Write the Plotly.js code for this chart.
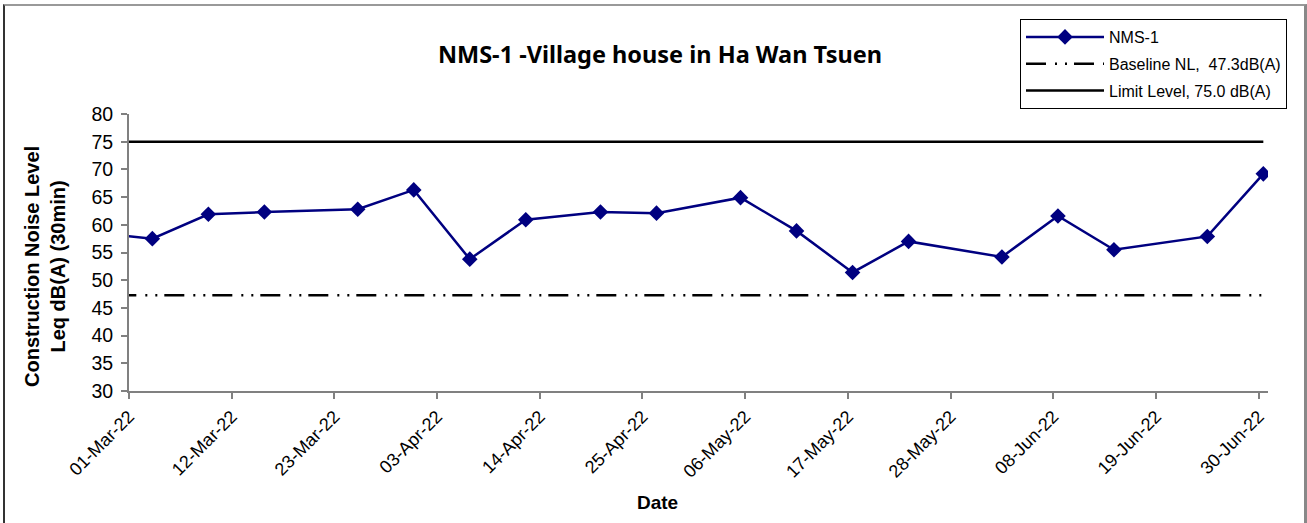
<!DOCTYPE html>
<html>
<head>
<meta charset="utf-8">
<script src="https://cdn.plot.ly/plotly-3.0.1.min.js"></script>
<style>
  html, body { margin: 0; padding: 0; background: #fff; }
  #wrap { position: relative; width: 1307px; height: 523px; overflow: hidden; }
  #chart { position: absolute; left: 0; top: 0; width: 1307px; height: 523px; }
  #frame { position: absolute; left: 3px; top: 4px; width: 1299px; height: 540px;
           border-left: 2px solid #333; border-top: 2px solid #999; border-right: 3px solid #888;
           pointer-events: none; }
</style>
</head>
<body>
<div id="wrap">
  <div id="chart"></div>
  <div id="frame"></div>
</div>
<script>
// Data
const dates = [
  "2022-02-22 12:00", "2022-03-03 12:00", "2022-03-09 12:00", "2022-03-15 12:00",
  "2022-03-25 12:00", "2022-03-31 12:00", "2022-04-06 12:00", "2022-04-12 12:00",
  "2022-04-20 12:00", "2022-04-26 12:00", "2022-05-05 12:00", "2022-05-11 12:00",
  "2022-05-17 12:00", "2022-05-23 12:00", "2022-06-02 12:00", "2022-06-08 12:00",
  "2022-06-14 12:00", "2022-06-24 12:00", "2022-06-30 12:00"
];
const nms1 = [59.0, 57.5, 61.9, 62.3, 62.8, 66.3, 53.8, 60.9, 62.3, 62.1, 64.9, 58.9,
              51.4, 57.0, 54.2, 61.6, 55.5, 57.9, 69.2];
const baselineLevel = 47.3;
const limitLevel = 75.0;
const lineSpan = ["2022-02-22 12:00", "2022-06-30 12:00"];

const seriesNames = ["NMS-1", "Baseline NL,  47.3dB(A)", "Limit Level, 75.0 dB(A)"];
const chartTitle = "NMS-1 -Village house in Ha Wan Tsuen";
const xTitle = "Date";
const yTitle = "Construction Noise Level<br>Leq dB(A) (30min)";

const traces = [
  {
    x: dates, y: nms1, name: seriesNames[0], type: "scatter", mode: "lines+markers",
    legendgroup: "a",
    line: { color: "#000080", width: 2.5 },
    marker: { symbol: "diamond", size: 12, color: "#000080" }
  },
  {
    x: lineSpan, y: [baselineLevel, baselineLevel], name: seriesNames[1], type: "scatter", mode: "lines",
    legendgroup: "b",
    line: { color: "#000000", width: 2.5, dash: "20px,9px,2px,8px,2px,7px" }
  },
  {
    x: lineSpan, y: [limitLevel, limitLevel], name: seriesNames[2], type: "scatter", mode: "lines",
    legendgroup: "c",
    line: { color: "#000000", width: 2.5 }
  }
];

const arial = "Liberation Sans, Arial, sans-serif";

const layout = {
  width: 1307, height: 523,
  paper_bgcolor: "#fff", plot_bgcolor: "#fff",
  margin: { l: 129, r: 39, t: 114, b: 132 },
  showlegend: true,
  title: {
    text: "<b>" + chartTitle + "</b>",
    font: { family: "Noto Sans, sans-serif", size: 23.5, color: "#000" },
    x: 660 / 1307, xanchor: "center", xref: "container",
    y: 1 - 55 / 523, yanchor: "middle", yref: "container"
  },
  legend: {
    x: (1020 - 129) / (1307 - 129 - 39), xanchor: "left",
    y: (391 - 19) / 277, yanchor: "top",
    bgcolor: "#fff", bordercolor: "#000", borderwidth: 1,
    font: { family: arial, size: 16, color: "#000" },
    tracegroupgap: 3, traceorder: "grouped", itemwidth: 78
  },
  xaxis: {
    type: "date",
    range: ["2022-03-01", "2022-07-01"],
    tick0: "2022-03-01", dtick: 11 * 86400000,
    tickformat: "%d-%b-%y", tickangle: -45,
    ticks: "outside", ticklen: 6, tickcolor: "#808080", tickwidth: 2,
    showline: true, linecolor: "#808080", linewidth: 2,
    showgrid: false, zeroline: false,
    tickfont: { family: arial, size: 18, color: "#000" }
  },
  yaxis: {
    range: [30, 80], dtick: 5, tick0: 30,
    ticks: "outside", ticklen: 6, tickcolor: "#808080", tickwidth: 2,
    showline: true, linecolor: "#808080", linewidth: 2,
    showgrid: false, zeroline: false, ticklabelstandoff: 4,
    tickfont: { family: arial, size: 19.5, color: "#000" }
  },
  annotations: [
    {
      text: "<b>" + xTitle + "</b>", xref: "paper", yref: "paper",
      x: (657 - 129) / 1139, y: -(502 - 391) / 277, xanchor: "center", yanchor: "middle",
      showarrow: false, font: { family: arial, size: 19, color: "#000" }
    },
    {
      text: "<b>" + yTitle + "</b>", xref: "paper", yref: "paper",
      x: -(129 - 45) / 1139, y: (391 - 267) / 277, xanchor: "center", yanchor: "middle",
      textangle: -90, showarrow: false, font: { family: arial, size: 20, color: "#000" }
    }
  ]
};

Plotly.newPlot("chart", traces, layout, { displayModeBar: false, staticPlot: true });
</script>
</body>
</html>
